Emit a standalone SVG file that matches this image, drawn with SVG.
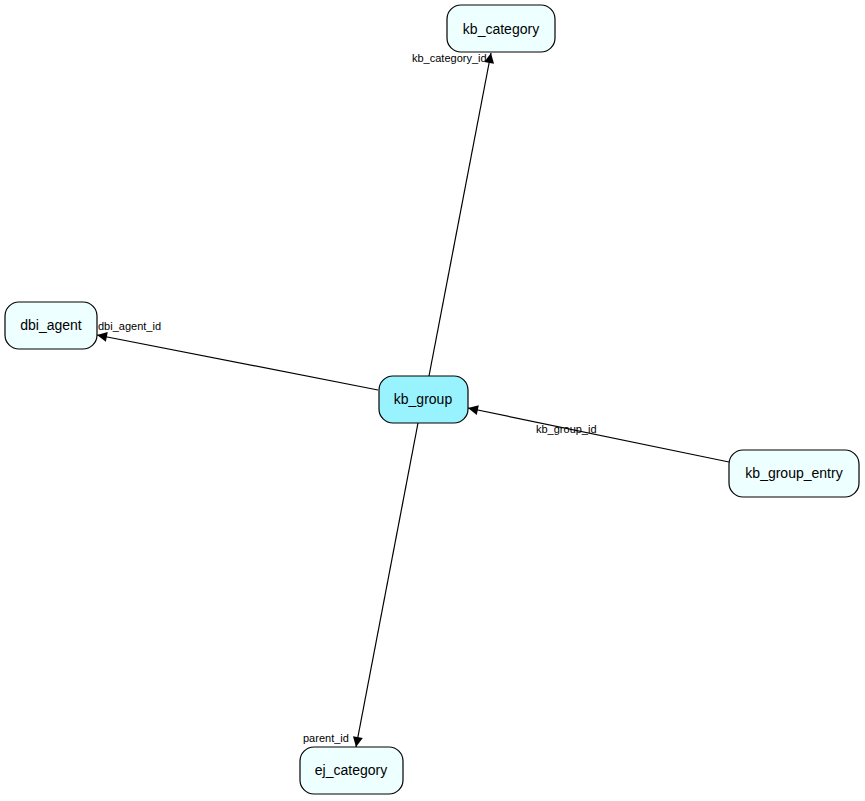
<svg xmlns="http://www.w3.org/2000/svg" width="865" height="801" viewBox="0 0 865 801">
<style>
.n{fill:#eeffff;stroke:#000;stroke-width:1.2}
.c{fill:#99f3ff}
.t{font-family:"Liberation Sans",Arial,sans-serif;font-size:14px;text-anchor:middle}
.l{font-family:"Liberation Sans",Arial,sans-serif;font-size:11px}
.e{stroke:#000;stroke-width:1.2;fill:none;marker-end:url(#a)}
</style>
<defs><marker id="a" viewBox="0 0 10 10" refX="10" refY="5" markerWidth="14" markerHeight="10" markerUnits="userSpaceOnUse" orient="auto"><path d="M0,0L10,5L0,10z"/></marker></defs>
<rect width="865" height="801" fill="#fff"/>
<g id="connectors">
<line class="e" x1="429" y1="376" x2="491" y2="53"/>
<line class="e" x1="378" y1="390" x2="97" y2="335"/>
<line class="e" x1="729" y1="462" x2="468" y2="408"/>
<line class="e" x1="418" y1="423" x2="356" y2="747"/>
<text class="l" x="412" y="62">kb_category_id</text>
<text class="l" x="98" y="330">dbi_agent_id</text>
<text class="l" x="536" y="433">kb_group_id</text>
<text class="l" x="303" y="742">parent_id</text>
</g>
<g id="kb_category"><rect class="n" x="447" y="5" width="108" height="47" rx="14"/><text class="t" x="501" y="34">kb_category</text></g>
<g id="dbi_agent"><rect class="n" x="5" y="302" width="92" height="47" rx="14"/><text class="t" x="51" y="330">dbi_agent</text></g>
<g id="kb_group"><rect class="n c" x="379" y="376" width="89" height="47" rx="14"/><text class="t" x="423" y="404">kb_group</text></g>
<g id="kb_group_entry"><rect class="n" x="729" y="450" width="130" height="47" rx="14"/><text class="t" x="794" y="478">kb_group_entry</text></g>
<g id="ej_category"><rect class="n" x="300" y="747" width="103" height="47" rx="14"/><text class="t" x="351" y="775">ej_category</text></g>
</svg>
